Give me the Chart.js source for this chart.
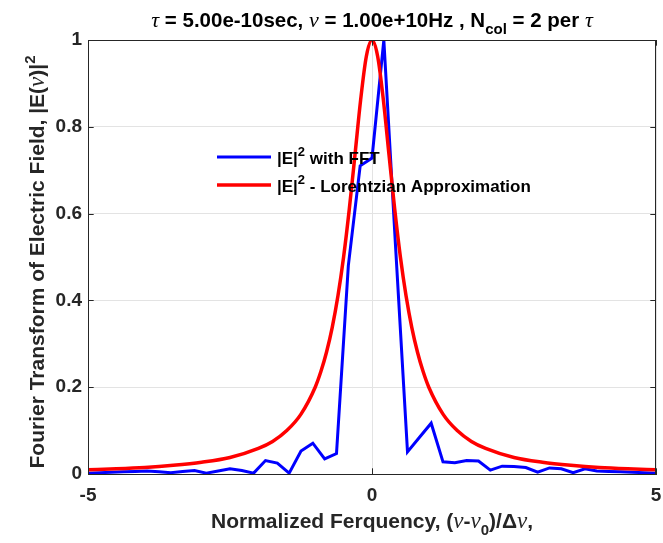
<!DOCTYPE html>
<html>
<head>
<meta charset="utf-8">
<script src="https://cdn.jsdelivr.net/npm/chart.js@4/dist/chart.umd.min.js"></script>
<style>
  html, body { margin: 0; padding: 0; background: #ffffff; }
  #wrap { width: 663px; height: 543px; }
</style>
</head>
<body>
<div id="wrap"><canvas id="c" width="663" height="543"></canvas></div>
<script>
// Normalized frequency grid of the FFT spectrum, (nu - nu0) / dnu
const fftFreq = [
  -5.0, -4.7917, -4.5833, -4.375, -4.1667, -3.9583, -3.75, -3.5417, -3.3333, -3.125,
  -2.9167, -2.7083, -2.5, -2.2917, -2.0833, -1.875, -1.6667, -1.4583, -1.25, -1.0417,
  -0.8333, -0.625, -0.4167, -0.2083, 0.0, 0.2083, 0.4167, 0.625, 0.8333, 1.0417,
  1.25, 1.4583, 1.6667, 1.875, 2.0833, 2.2917, 2.5, 2.7083, 2.9167, 3.125,
  3.3333, 3.5417, 3.75, 3.9583, 4.1667, 4.375, 4.5833, 4.7917, 5.0
];
// |E|^2 from the FFT, normalized to its peak
const fftPower = [
  0.002, 0.003, 0.004, 0.005, 0.006, 0.007, 0.005, 0.003, 0.006, 0.008,
  0.002, 0.007, 0.012, 0.008, 0.002, 0.031, 0.025, 0.002, 0.053, 0.071,
  0.035, 0.047, 0.48, 0.71, 0.728, 1.0, 0.52, 0.051, 0.084, 0.117,
  0.028, 0.026, 0.031, 0.030, 0.009, 0.018, 0.017, 0.015, 0.004, 0.014,
  0.012, 0.003, 0.012, 0.007, 0.006, 0.005, 0.004, 0.003, 0.002
];
// Lorentzian approximation of the line shape
const lorFreq = [
  -5, -4.5, -4, -3.5, -3, -2.5, -2, -1.75, -1.5, -1.25, -1,
  -0.9, -0.8, -0.7, -0.6, -0.5, -0.4, -0.3, -0.2, -0.1, 0,
  0.1, 0.2, 0.3, 0.4, 0.5, 0.6, 0.7, 0.8, 0.9,
  1, 1.25, 1.5, 1.75, 2, 2.5, 3, 3.5, 4, 4.5, 5
];
const lorPower = [
  0.010, 0.012, 0.015, 0.020, 0.027, 0.038, 0.059, 0.075, 0.100, 0.138, 0.200,
  0.236, 0.281, 0.338, 0.410, 0.500, 0.610, 0.735, 0.862, 0.962, 1.000,
  0.962, 0.862, 0.735, 0.610, 0.500, 0.410, 0.338, 0.281, 0.236,
  0.200, 0.138, 0.100, 0.075, 0.059, 0.038, 0.027, 0.020, 0.015, 0.012, 0.010
];
const xTicks = [-5, 0, 5];
const yTicks = [0, 0.2, 0.4, 0.6, 0.8, 1];
const seriesLabels = [' with FFT', ' - Lorentzian Approximation'];

const SANS = '"Liberation Sans", Arial, Helvetica, sans-serif';
const SERIF = '"Liberation Serif", "DejaVu Serif", serif';
const AXIS_COLOR = '#262626';
const tickFont = { family: SANS, size: 19, weight: 'bold' };

// Draw a run of text pieces with individual fonts and vertical shifts
function drawRuns(ctx, runs, x, y, align) {
  let w = 0;
  runs.forEach(r => { ctx.font = r[1]; w += ctx.measureText(r[0]).width; });
  let cx = align === 'center' ? x - w / 2 : x;
  ctx.textAlign = 'left';
  ctx.textBaseline = 'alphabetic';
  runs.forEach(r => {
    ctx.font = r[1];
    ctx.fillText(r[0], cx, y + (r[2] || 0));
    cx += ctx.measureText(r[0]).width;
  });
}

const BT = 'bold 20.5px ' + SANS;
const GT = 'italic 22px ' + SERIF;
const B21 = 'bold 21px ' + SANS;
const G21 = 'italic 23px ' + SERIF;
const S15 = 'bold 15px ' + SANS;
const LEG = 'bold 17px ' + SANS;
const LEGSUP = 'bold 13px ' + SANS;

const textPlugin = {
  id: 'texts',
  afterDraw(chart) {
    const ctx = chart.ctx;
    const a = chart.chartArea;
    const cxm = (a.left + a.right) / 2;
    ctx.save();
    ctx.fillStyle = '#000000';
    // title
    drawRuns(ctx, [
      ['\u03C4', GT], [' = 5.00e-10sec, ', BT], ['\u03BD', GT],
      [' = 1.00e+10Hz , N', BT], ['col', S15, 7], [' = 2 per ', BT], ['\u03C4', GT]
    ], cxm, 27, 'center');
    // x-axis title
    ctx.fillStyle = AXIS_COLOR;
    drawRuns(ctx, [
      ['Normalized Ferquency, (', B21], ['\u03BD', G21], ['-', B21], ['\u03BD', G21],
      ['0', S15, 7], [')/\u0394', B21], ['\u03BD', G21], [',', B21]
    ], cxm, 528, 'center');
    // y-axis title
    ctx.save();
    ctx.translate(44, 262);
    ctx.rotate(-Math.PI / 2);
    drawRuns(ctx, [
      ['Fourier Transform of Electric Field, |E(', B21], ['\u03BD', G21], [')|', B21], ['2', S15, -9]
    ], 0, 0, 'center');
    ctx.restore();

    // legend
    const ds = chart.data.datasets;
    const lx0 = 217, lx1 = 271, tx = 277;
    const rows = [157, 185];
    ds.forEach((d, i) => {
      const y = rows[i];
      ctx.strokeStyle = d.borderColor;
      ctx.lineWidth = d.borderWidth;
      ctx.beginPath();
      ctx.moveTo(lx0, y);
      ctx.lineTo(lx1, y);
      ctx.stroke();
      ctx.fillStyle = '#000000';
      drawRuns(ctx, [
        ['|E|', LEG], ['2', LEGSUP, -8], [seriesLabels[i], LEG]
      ], tx, y + 7, 'left');
    });
    ctx.restore();
  }
};

// Box around the axes with inward tick marks
const framePlugin = {
  id: 'frame',
  afterDraw(chart) {
    const ctx = chart.ctx;
    const a = chart.chartArea;
    const xs = chart.scales.x, ys = chart.scales.y;
    const L = 5.7;
    ctx.save();
    ctx.strokeStyle = AXIS_COLOR;
    ctx.lineWidth = 1;
    ctx.strokeRect(Math.round(a.left) + 0.5, Math.round(a.top) + 0.5,
                   Math.round(a.right - a.left) - 1, Math.round(a.bottom - a.top));
    ctx.beginPath();
    yTicks.forEach(v => {
      const y = Math.round(ys.getPixelForValue(v)) + 0.5;
      ctx.moveTo(a.left, y); ctx.lineTo(a.left + L, y);
      ctx.moveTo(a.right, y); ctx.lineTo(a.right - L, y);
    });
    xTicks.forEach(v => {
      const x = Math.round(xs.getPixelForValue(v)) + 0.5;
      ctx.moveTo(x, a.bottom); ctx.lineTo(x, a.bottom - L);
      ctx.moveTo(x, a.top); ctx.lineTo(x, a.top + L);
    });
    ctx.stroke();
    ctx.restore();
  }
};

new Chart(document.getElementById('c'), {
  type: 'line',
  data: {
    datasets: [
      {
        label: seriesLabels[0],
        data: fftFreq.map((f, i) => ({ x: f, y: fftPower[i] })),
        borderColor: '#0000ff',
        borderWidth: 3,
        pointRadius: 0,
        tension: 0,
        order: 1
      },
      {
        label: seriesLabels[1],
        data: lorFreq.map((f, i) => ({ x: f, y: lorPower[i] })),
        borderColor: '#ff0000',
        borderWidth: 3.5,
        pointRadius: 0,
        cubicInterpolationMode: 'monotone',
        order: 0
      }
    ]
  },
  options: {
    responsive: false,
    animation: false,
    devicePixelRatio: 1,
    layout: { padding: { left: 0, right: 7, top: 40, bottom: 0 } },
    plugins: {
      legend: { display: false },
      tooltip: { enabled: false },
      title: { display: false }
    },
    scales: {
      x: {
        type: 'linear',
        min: -5, max: 5,
        afterBuildTicks: s => { s.ticks = xTicks.map(v => ({ value: v })); },
        afterFit: s => { s.height = 69; s.paddingLeft = 0; s.paddingRight = 0; },
        ticks: { font: tickFont, color: AXIS_COLOR, padding: 10, maxRotation: 0,
                 callback: v => String(v) },
        grid: { color: '#e3e3e3', drawTicks: false, lineWidth: 1 },
        border: { display: true, color: AXIS_COLOR, width: 1 }
      },
      y: {
        type: 'linear',
        min: 0, max: 1,
        afterBuildTicks: s => { s.ticks = yTicks.map(v => ({ value: v })); },
        afterFit: s => { s.width = 88; s.paddingTop = 0; s.paddingBottom = 0; },
        ticks: { font: tickFont, color: AXIS_COLOR, padding: 6,
                 callback: v => String(v) },
        grid: { color: '#e3e3e3', drawTicks: false, lineWidth: 1 },
        border: { display: true, color: AXIS_COLOR, width: 1 }
      }
    }
  },
  plugins: [framePlugin, textPlugin]
});
</script>
</body>
</html>
